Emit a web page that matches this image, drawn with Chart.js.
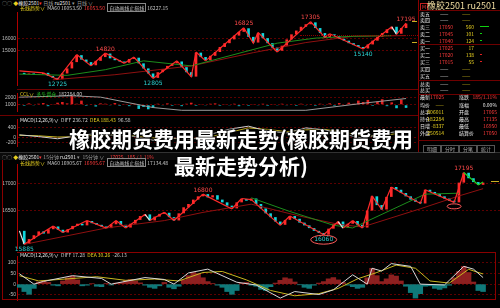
<!DOCTYPE html>
<html>
<head>
<meta charset="utf-8">
<script src="https://cdn.jsdelivr.net/npm/chart.js@4.4.0/dist/chart.umd.min.js"></script>
<style>
html, body { margin: 0; padding: 0; background: #000; width: 500px; height: 308px; overflow: hidden; }
body { position: relative; font-family: "Noto Sans CJK SC", "Noto Sans", sans-serif; }
canvas { position: absolute; display: block; }
.t { position: absolute; font-size: 5px; line-height: 6px; white-space: nowrap; color: #c8c8c8; }
.y { color: #e8d020; } .r { color: #ff3a3a; } .g { color: #20c020; } .w { color: #e8e8e8; }
.box { border: 1px solid #888; padding: 0 1px; }
.ln { position: absolute; background: #6e0000; }
#title { position: absolute; left: 0; top: 125px; width: 482px; text-align: center; color: #fff;
  font-weight: 700; font-size: 21px; line-height: 27px; font-family: "Noto Sans CJK SC", sans-serif;
  text-shadow: 0 0 3px #000, 0 0 3px #000, 1px 1px 1px #000; }
</style>
</head>
<body>
<canvas id="topMain" width="418" height="81" style="left:0;top:8px"></canvas>
<canvas id="topVol" width="418" height="26" style="left:0;top:89px"></canvas>
<canvas id="topMacd" width="418" height="39" style="left:0;top:115px"></canvas>
<canvas id="botMain" width="500" height="92" style="left:0;top:160px"></canvas>
<canvas id="botMacd" width="500" height="56" style="left:0;top:252px"></canvas>

<!-- frame lines -->
<div class="ln" style="left:17px;top:89px;width:401px;height:1px"></div>
<div class="ln" style="left:0;top:115px;width:418px;height:1px"></div>
<div class="ln" style="left:418px;top:0;width:1px;height:152px;background:#8a0000"></div>
<div class="ln" style="left:0;top:152px;width:500px;height:1px;background:#333"></div>
<div class="ln" style="left:17px;top:252px;width:478px;height:1px;background:#8a0000"></div>
<div class="ln" style="left:2px;top:299px;width:493px;height:1px;background:#8a0000"></div>
<div class="ln" style="left:2px;top:160px;width:1px;height:140px;background:#8a0000"></div>
<div class="ln" style="left:495px;top:252px;width:1px;height:48px;background:#8a0000"></div>
<div style="position:absolute;left:300px;top:35px;width:118px;border-top:1px dotted #8a0000"></div>
<div class="ln" style="left:412px;top:21px;width:5px;height:1px;background:#c8b020"></div>
<div class="ln" style="left:412px;top:42px;width:5px;height:1px;background:#c8b020"></div>
<div class="ln" style="left:491px;top:181px;width:8px;height:1px;background:#c8b020"></div>

<!-- header rows -->
<div class="t" style="left:2px;top:0;color:#999">○○ <span class="y">◆</span><span class="w">橡胶2501</span><span class="r">▾</span> 日线 <span class="w">ru2501</span> ▾ &nbsp;日线 ∨</div>
<div class="t" style="left:20px;top:5px"><span class="y">长线趋势∨</span> &nbsp;MA60 16053.50 &nbsp;<span class="r">16053.50</span> &nbsp;<span class="box">自动画线止损线</span> 16227.15</div>
<div class="t" style="left:20px;top:91px"><span class="y">CCL∨</span> &nbsp;<span class="g">多头增仓</span> &nbsp;182284.00</div>
<div class="t" style="left:20px;top:117px"><span class="w">MACD(12,26,9)∨</span> &nbsp;DIFF 236.72 &nbsp;<span class="y">DEA 188.43</span> &nbsp;96.58</div>
<div style="position:absolute;left:0;top:153px;width:500px;height:7px;background:#0b0b0b"></div>
<div class="t" style="left:2px;top:154px;color:#999">○○ <span class="y">◆</span><span class="w">橡胶2501</span><span class="r">▾</span> 15分钟 <span class="w">ru2501</span> ▾ &nbsp;15分钟 ∨ &nbsp; &nbsp; <span class="r">17025</span> &nbsp; <span class="r">185 / 1.11%</span></div>
<div class="t" style="left:20px;top:160px"><span class="y">长线趋势∨</span> &nbsp;MA60 16905.67 &nbsp;<span class="r">16905.67</span> &nbsp;<span class="box">自动画线止损线</span> 17134.48</div>
<div class="t" style="left:20px;top:252px"><span class="w">MACD(12,26,9)∨</span> &nbsp;DIFF 17.28 &nbsp;<span class="y">DEA 30.26</span> &nbsp;-26.13</div>

<div id="title">橡胶期货费用最新走势(橡胶期货费用<br>最新走势分析)</div>

<script>
// ---- top chart (daily) ----
const TOP_N = 84;
const topClose = [13250, 13150, 13200, 13100, 13150, 13250, 13000, 12850, 12750,
  13200, 13600, 14100, 14650, 14300, 14100, 13850, 14200, 14500, 14780,
  14400, 14250, 14150, 14050, 14350, 14450, 14000, 13600, 13200, 12850,
  13300, 13550, 13800, 14000, 14150, 13700, 13300, 12950, 14850, 14500, 14250,
  14600, 14900, 15300, 15600, 15900, 16200, 16500, 16780, 16100, 15650, 16400,
  16000, 15600, 15250, 15000, 15400, 15900, 16300, 16600, 16900, 17100, 17250,
  16800, 16400, 16050, 16300, 16150, 15950, 15800, 15600, 15450, 15300, 15180,
  15500, 15800, 16100, 16400, 16700, 16900, 16350, 16800, 17150];
const topZigIdx = [0, 5, 8, 12, 15, 18, 22, 24, 28, 33, 36, 37, 39, 47, 49, 50, 54, 61, 64, 65, 72, 78, 79, 81];
const topZigVal = [13400, 13250, 12725, 14700, 13800, 14820, 14000, 14500, 12805, 14200, 12950, 14900,
  14200, 16825, 15600, 16450, 14900, 17305, 16050, 16350, 15140, 16900, 16300, 17195];
const topPeakIdx = [18, 47, 61, 81];
const topPeakVal = [14820, 16825, 17305, 17195];
const topLowIdx = [8, 28, 72];
const topLowVal = [12725, 12805, 15140];
const topGreenIdx = [0, 10, 18, 26, 36, 54, 62, 70, 78];
const topGreenVal = [13150, 13050, 13500, 14200, 13800, 15600, 16000, 16150, 16200];
const topRedIdx = [7, 20, 36, 49, 60, 70, 81];
const topRedVal = [12700, 13100, 13800, 14850, 15650, 16150, 16200];
const topTicks = [16000, 15000];

const topVol = [200, -300, 400, -200, 300, 500, -400, 200, 600, 800,
  400, 2600, 300, 1200, -300, 200, -500, 400, 300, -200,
  500, -300, 200, -400, 300, -1200, -600, -1300, -800, 300,
  -200, 400, -300, 200, -400, 300, 600, -300, 200, -200,
  300, 400, -300, 200, -200, 300, -400, 200, -300, 200,
  -200, 300, -300, 200, -200, 300, -200, 200, -300, 300,
  -200, 200, -300, 300, -200, 400, -300, 500, -200, 600,
  300, 1200, 800, 1400, -300, 900, 1600, -400, 700, -1000,
  1500, -900];
const topOiIdx = [0, 11, 17, 28, 34, 60, 73, 81];
const topOiVal = [2200, 2600, 2200, -800, -1600, -1600, 600, 1800];
const topVolTicks = [2000, 1000, 0, -1000];
const topVolTickText = ['2000', '1000', '1000', '500000'];

const topDiffIdx = [0, 4, 8, 12, 16, 20, 24, 28, 32, 36, 40, 44, 48, 52, 56, 60, 64, 68, 72, 76, 80];
const topDiffVal = [100, 30, -60, 60, 150, 80, 40, -120, -30, -90, 120, 330, 450, 250, 180, 380, 300, 120, -40, 150, 250];
const topDeaVal = [80, 60, 10, 20, 90, 100, 60, -20, -50, -60, 20, 200, 380, 320, 230, 300, 320, 200, 60, 60, 180];
const topMacdTicks = [400, 0, -200];
const topDateIdx = [4, 22, 33, 48, 65, 79];
const topDateText = ['2023/08/01', '2023/11/01', '2024/01/02', '2024/04/01', '2024/07/01', '2024/09/02'];

// ---- bottom chart (15 min) ----
const BOT_N = 100;
const botClose = [16130, 15890, 15980, 16050, 16120, 16080, 16160, 16210, 16150, 16100,
  16160, 16220, 16260, 16230, 16310, 16270, 16240, 16210, 16180, 16250,
  16310, 16240, 16190, 16260, 16330, 16400, 16430, 16320, 16390, 16440,
  16460, 16380, 16320, 16450, 16560, 16620, 16700, 16760, 16800, 16740,
  16780, 16700, 16650, 16590, 16540, 16650, 16710, 16680, 16720, 16620,
  16540, 16450, 16380, 16300, 16240, 16330, 16400, 16350, 16280, 16230,
  16180, 16130, 16090, 16060, 16170, 16250, 16300, 16190, 16260, 16310,
  16240, 16190, 16500, 16760, 16600, 16520, 16750, 16930, 16880, 16820,
  16760, 16700, 16660, 16630, 16880, 16840, 16800, 16760, 16720, 16680,
  16650, 17010, 17190, 17090, 17020, 16970, 17010];
const botZigIdx = [0, 1, 7, 9, 14, 18, 20, 22, 26, 27, 30, 32, 38, 44, 46, 48, 54, 56, 63, 66, 67, 69, 71, 73, 75, 77, 83, 84, 90, 92, 95, 96];
const botZigVal = [16130, 15885, 16220, 16100, 16320, 16180, 16320, 16180, 16430, 16320, 16470, 16320,
  16800, 16530, 16720, 16700, 16230, 16400, 16060, 16300, 16180, 16320, 16180, 16770, 16520, 16930,
  16630, 16880, 16650, 17195, 16970, 17020];
const botPeakIdx = [38, 92];
const botPeakVal = [16800, 17195];
const botLowIdx = [1, 63];
const botLowVal = [15885, 16060];
const botGreenIdx = [48, 56, 65, 69, 84, 91];
const botGreenVal = [16733, 16483, 16233, 16183, 16800, 16817];
const botRedIdx = [1, 18, 30, 38, 48, 58, 66, 71, 83, 91, 96];
const botRedVal = [15883, 16183, 16317, 16467, 16617, 16400, 16250, 16200, 16533, 16767, 16900];
const botTicks = [17000, 16500];

const botDiffIdx = [0, 3, 5, 11, 17, 19, 26, 30, 32, 35, 39, 45, 49, 54, 57, 62, 65, 69, 72, 73, 75, 77, 81, 83, 88, 92, 94, 96];
const botDiffVal = [49, 0, 13, 40, 27, 0, 31, 22, 0, 53, 71, 9, -4, -66, -35, -49, -27, 44, 0, 75, 62, 97, 84, 0, -4, 84, 71, 31];
const botDeaIdx = [0, 4, 10, 16, 22, 28, 33, 38, 42, 47, 52, 57, 62, 66, 70, 74, 78, 82, 85, 89, 93, 96];
const botDeaVal = [40, 15, 25, 35, 18, 24, 15, 55, 60, 20, -30, -55, -45, -20, 25, 55, 90, 75, 15, 5, 70, 48];
const botHist = [-15, -35, -48, -20, 10, 15, 8, -5, -8, 15,
  30, 38, 20, -8, -5, 2, -10, -12, 3, -4,
  5, 8, 18, 22, 15, 6, -5, -15, -20, -8,
  8, -15, -22, -10, 20, 40, 55, 50, 30, 12,
  3, -5, -15, -35, -48, -30, 5, 8, -5, -10,
  -25, -30, -12, 5, 18, 30, 25, 10, -3, -15,
  -20, -5, 5, 12, 25, 31, 20, 8, -5, -12,
  -20, -15, 30, 75, 40, 12, 25, 44, 38, 15,
  -10, -40, -66, -45, -10, -8, -20, -25, -18, -5,
  30, 60, 84, 55, 10, -30, -35];
const botMacdTicks = [100, 50, 0, -50];
const botDateIdx = [6, 20, 34, 49, 63, 77, 92];
const botDateText = ['2024/08/19', '2024/08/22', '2024/08/27', '2024/08/30', '2024/09/04', '2024/09/09', '2024/09/12'];

// ---- order book ----
const bookLabels = ['卖五', '卖四', '卖三', '卖二', '卖一', '买一', '买二', '买三', '买四', '买五', '总卖', '总买'];
const bookPrices = ['—', '—', '17050', '17045', '17040', '17025', '17020', '17015', '—', '—', '—', '—'];
const bookVols = ['—', '—', '560', '101', '124', '17', '138', '55', '—', '—', '—', '—'];
const bookBars = [0, 0, 8, 1, 1, 0, 1, 1, 0, 0, 0, 0];
const statLeft = ['最新', '均价', '总手', '持仓', '日增', '外盘'];
const statLeftVal = ['17025', '——', '406011', '182284', '-8337', '250514'];
const statRight = ['涨跌', '涨幅', '开盘', '最高', '最低', '结算价'];
const statRightVal = ['185/1.11%', '0.00%', '17065', '17135', '16950', '17050'];
const bookTabs = ['明细', '分时', '分笔', '统计'];

Chart.defaults.font.family = '"Liberation Sans", "DejaVu Sans", sans-serif';
Chart.defaults.font.size = 5;

const UP = '#ff2a2a', DOWN = '#12d6dc', WHITE = '#e6e6e6';

function sparse(n, idx, val) {
  const a = new Array(n).fill(null);
  idx.forEach((k, j) => { a[k] = val[j]; });
  return a;
}

function labelsFor(n) {
  return Array.from({ length: n }, (_, i) => i);
}

function yScale(min, max, ticks, text) {
  return {
    min, max,
    afterFit: s => { s.width = 17; },
    afterBuildTicks: s => { s.ticks = ticks.map(v => ({ value: v })); },
    ticks: { color: '#bdbdbd', padding: 1, font: { size: 5 }, callback: (v, i) => text ? text[i] : String(v) },
    grid: { color: '#5c0000', drawTicks: false },
    border: { display: true, color: '#b00000', dash: [2, 2] }
  };
}

function dateScale(idx, text) {
  return {
    offset: true,
    afterFit: s => { s.height = 8; },
    grid: { display: false },
    border: { display: false },
    ticks: {
      autoSkip: false, maxRotation: 0, minRotation: 0, color: '#9a9a9a', padding: 1, font: { size: 5 },
      callback: (v, i) => { const k = idx.indexOf(i); return k >= 0 ? text[k] : null; }
    }
  };
}

function candles(close) {
  return {
    type: 'bar',
    data: close.map((c, i) => [i ? close[i - 1] : c, c]),
    backgroundColor: close.map((c, i) => c >= (i ? close[i - 1] : c) ? UP : DOWN),
    barPercentage: 0.55,
    categoryPercentage: 1
  };
}

function line(data, color, width, extra) {
  return Object.assign({ type: 'line', data, borderColor: color, borderWidth: width || 1,
    pointRadius: 0, spanGaps: true, tension: 0, fill: false }, extra || {});
}

// labels at the turning points, ovals where the picture circles a low
const marks = {
  id: 'marks',
  afterDatasetsDraw(chart, args, opts) {
    const { ctx, scales: { x, y } } = chart;
    ctx.save();
    ctx.font = '6px "DejaVu Sans"';
    ctx.textAlign = 'center';
    ctx.textBaseline = 'middle';
    opts.peakIdx.forEach((k, j) => {
      ctx.fillStyle = '#ff4a4a';
      ctx.fillText(String(opts.peakVal[j]), x.getPixelForValue(k), y.getPixelForValue(opts.peakVal[j]) - 4);
    });
    opts.lowIdx.forEach((k, j) => {
      const px = x.getPixelForValue(k), py = y.getPixelForValue(opts.lowVal[j]) + 5;
      ctx.fillStyle = '#2ad0d0';
      ctx.fillText(String(opts.lowVal[j]), px, py);
      if (opts.ring && opts.ring.indexOf(k) >= 0) {
        ctx.strokeStyle = '#ff5a5a';
        ctx.lineWidth = 1;
        ctx.beginPath();
        ctx.ellipse(px, py, 13, 4.5, 0, 0, Math.PI * 2);
        ctx.stroke();
      }
    });
    (opts.smallRing || []).forEach((k, j) => {
      const px = x.getPixelForValue(k), py = y.getPixelForValue(opts.smallRingVal[j]) + 4;
      ctx.strokeStyle = '#ff5a5a';
      ctx.beginPath();
      ctx.ellipse(px, py, 7, 2.5, 0, 0, Math.PI * 2);
      ctx.stroke();
    });
    ctx.restore();
  }
};

function makeChart(id, n, datasets, y, x, pluginList, pluginOpts) {
  return new Chart(document.getElementById(id), {
    type: 'bar',
    data: { labels: labelsFor(n), datasets },
    options: {
      responsive: false, animation: false, devicePixelRatio: 1,
      layout: { padding: 0 },
      scales: { x: x || { display: false, offset: true }, y },
      plugins: Object.assign({ legend: { display: false }, tooltip: { enabled: false } }, pluginOpts || {})
    },
    plugins: pluginList || []
  });
}

function zigSegment(lastGreenFrom) {
  return {
    borderColor: c => {
      if (lastGreenFrom !== undefined && c.p0DataIndex >= lastGreenFrom) return '#22d022';
      return c.p1.parsed.y > c.p0.parsed.y ? UP : WHITE;
    }
  };
}

// top main
makeChart('topMain', TOP_N, [
  line(sparse(TOP_N, topZigIdx, topZigVal), UP, 1.2, { segment: zigSegment() }),
  line(sparse(TOP_N, topGreenIdx, topGreenVal), '#1c8c1c', 1),
  line(sparse(TOP_N, topRedIdx, topRedVal), '#8e1010', 1),
  candles(topClose)
], yScale(12286, 18071, topTicks), null, [marks],
  { marks: { peakIdx: topPeakIdx, peakVal: topPeakVal, lowIdx: topLowIdx, lowVal: topLowVal } });

// top open interest panel
makeChart('topVol', TOP_N, [
  line(sparse(TOP_N, topOiIdx, topOiVal), '#9a9a9a', 1),
  { type: 'bar', data: topVol, backgroundColor: topVol.map(v => v >= 0 ? '#e02020' : '#10c6d0'),
    barPercentage: 0.55, categoryPercentage: 1 }
], yScale(-1800, 3400, topVolTicks, topVolTickText));

// top MACD
makeChart('topMacd', TOP_N, [
  line(sparse(TOP_N, topDiffIdx, topDiffVal), '#cfcfcf', 1),
  line(sparse(TOP_N, topDiffIdx, topDeaVal), '#c8b820', 1)
], yScale(-353, 741, topMacdTicks), dateScale(topDateIdx, topDateText));

// bottom main
makeChart('botMain', BOT_N, [
  line(sparse(BOT_N, botZigIdx, botZigVal), UP, 1.2, { segment: zigSegment(92) }),
  line(sparse(BOT_N, botGreenIdx, botGreenVal), '#1c8c1c', 1,
    { segment: { borderColor: c => c.p1DataIndex - c.p0DataIndex > 12 ? 'rgba(0,0,0,0)' : '#1c8c1c' } }),
  line(sparse(BOT_N, botRedIdx, botRedVal), '#8e1010', 1),
  candles(botClose)
], yScale(15817, 17350, botTicks), null, [marks],
  { marks: { peakIdx: botPeakIdx, peakVal: botPeakVal, lowIdx: botLowIdx, lowVal: botLowVal,
    ring: [63], smallRing: [90], smallRingVal: [16650] } });

// bottom MACD
makeChart('botMacd', BOT_N, [
  line(sparse(BOT_N, botDiffIdx, botDiffVal), '#d8d8d8', 1),
  line(sparse(BOT_N, botDeaIdx, botDeaVal), '#c8b820', 1),
  { type: 'bar', data: botHist, backgroundColor: botHist.map(v => v >= 0 ? '#8e2020' : '#0f7a7a'),
    barPercentage: 1, categoryPercentage: 1 }
], yScale(-75, 133, botMacdTicks), dateScale(botDateIdx, botDateText));

// order book panel on the right of the daily chart
function txt(x, y, s, cls, right, size) {
  const d = document.createElement('div');
  d.className = 't ' + (cls || '');
  d.style.left = x + 'px';
  d.style.top = (y - 3) + 'px';
  if (size) { d.style.fontSize = size + 'px'; d.style.lineHeight = (size + 1) + 'px'; d.style.top = (y - size / 2) + 'px'; }
  if (right) d.style.transform = 'translateX(-100%)';
  d.textContent = s;
  document.body.appendChild(d);
  return d;
}
function hline(x, y, w, color) {
  const d = document.createElement('div');
  d.className = 'ln';
  Object.assign(d.style, { left: x + 'px', top: y + 'px', width: w + 'px', height: '1px', background: color || '#6e0000' });
  document.body.appendChild(d);
}

const mBox = txt(420, 5, 'M', 'r', false, 5);
mBox.style.border = '1px solid #c02020';
mBox.style.padding = '0 1px';
txt(427, 5, '橡胶2501  ru2501', '', false, 9).style.color = '#f0dca0';
hline(418, 10, 82);
hline(418, 44, 82);
hline(418, 80, 82);
hline(418, 94, 82);
hline(418, 140, 82);
const bookRowY = [14, 20, 27, 34, 41, 48, 55, 62, 69, 76, 84, 90];
bookLabels.forEach((s, i) => {
  const y = bookRowY[i];
  txt(420, y, s, 'w');
  if (bookPrices[i] === '—') {
    txt(440, y, '——', 'w');
    txt(462, y, '——', 'y');
  } else {
    txt(453, y, bookPrices[i], 'r', true);
    txt(474, y, bookVols[i], 'y', true);
  }
  if (bookBars[i]) hline(480, y - 1, bookBars[i] + 1, i < 5 ? '#10d010' : '#e02020');
});
const statY = [97, 105, 112, 119, 126, 133];
statLeft.forEach((s, i) => {
  txt(420, statY[i], s, 'w');
  txt(444, statY[i], statLeftVal[i], i === 0 ? 'r' : 'y', true);
  txt(459, statY[i], statRight[i], 'w');
  txt(497, statY[i], statRightVal[i], i === 1 ? 'w' : 'r', true);
});
bookTabs.forEach((s, i) => {
  const d = txt(423 + i * 18, 148, s, '');
  d.style.color = '#aaa';
  d.style.border = '1px solid #555';
  d.style.padding = '0 3px';
});
</script>
</body>
</html>
